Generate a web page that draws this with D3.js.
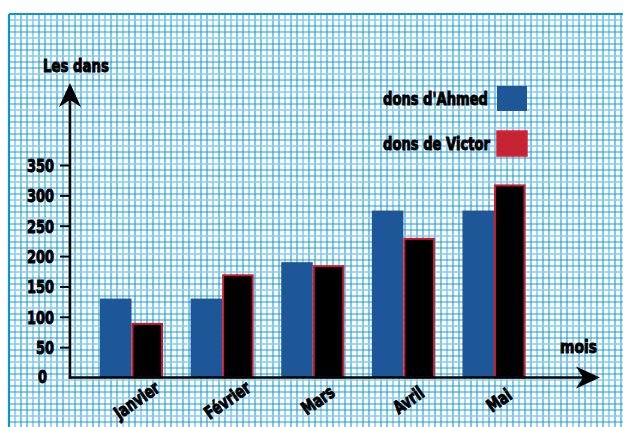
<!DOCTYPE html>
<html>
<head>
<meta charset="utf-8">
<script src="https://cdn.jsdelivr.net/npm/d3@7"></script>
<style>
  body { margin: 0; background: #ffffff; }
  svg { display: block; }
  .lbl { font-family: "DejaVu Sans Condensed", "DejaVu Sans", sans-serif; font-weight: bold; fill: #000; stroke: #000; stroke-width: 0.9px; }
</style>
</head>
<body>
<svg id="chart" width="623" height="427"></svg>
<script>
// Monthly donations
const months = ["Janvier", "Février", "Mars", "Avril", "Mai"];
const ahmed = [130, 130, 190, 275, 275];
const victor = [90, 170, 185, 230, 318];
const yTicks = [50, 100, 150, 200, 250, 300, 350];
const seriesNames = ["dons d'Ahmed", "dons de Victor"];
const yTitle = "Les dans";
const xTitle = "mois";

const svg = d3.select("#chart");

// squeeze a label horizontally so it reads like a condensed display face
function condense(sel, factor, fixed) {
  sel.each(function () {
    const w = this.getComputedTextLength();
    const target = fixed != null ? fixed : w * factor;
    d3.select(this).attr("textLength", target).attr("lengthAdjust", "spacingAndGlyphs");
  });
}

// ---- graph-paper background ----
const paper = { x0: 9, y0: 14, x1: 623, y1: 427, step: 6 };
const gGrid = svg.append("g");
const vx = d3.range(paper.x0, paper.x1 + 0.1, paper.step);
const hy = d3.range(paper.y0, paper.y1 + 0.1, paper.step);
const gridColor = i => (i % 3 === 1 ? "#86ccee" : "#1a9bd2");
const gridWidth = i => (i % 3 === 1 ? 1.6 : 1.1);
gGrid.selectAll("line.v").data(vx).join("line")
  .attr("x1", d => d).attr("x2", d => d)
  .attr("y1", paper.y0).attr("y2", paper.y1)
  .attr("stroke", (d, i) => gridColor(i))
  .attr("stroke-width", (d, i) => gridWidth(i));
gGrid.selectAll("line.h").data(hy).join("line")
  .attr("y1", d => d).attr("y2", d => d)
  .attr("x1", paper.x0).attr("x2", paper.x1)
  .attr("stroke", (d, i) => gridColor(i))
  .attr("stroke-width", (d, i) => gridWidth(i));
// paper border
gGrid.append("line").attr("x1", paper.x0).attr("x2", paper.x1).attr("y1", paper.y0).attr("y2", paper.y0)
  .attr("stroke", "#0f95cc").attr("stroke-width", 2.2);
gGrid.append("line").attr("x1", paper.x0).attr("x2", paper.x0).attr("y1", paper.y0).attr("y2", paper.y1)
  .attr("stroke", "#0f95cc").attr("stroke-width", 2.2);

// ---- scales ----
const originX = 70, originY = 377.5;
const y = d3.scaleLinear().domain([0, 350]).range([originY, 165]);
const x = d3.scaleBand().domain(months).range([100, 525.5]).paddingInner(0.304).paddingOuter(0);
const sub = d3.scaleBand().domain(seriesNames).range([0, x.bandwidth()]);

const colAhmed = "#1e5797";
const colRed = "#cf1a2e";

// ---- bars ----
const gBars = svg.append("g");
gBars.selectAll("rect.a").data(months).join("rect")
  .attr("x", d => x(d) + sub(seriesNames[0]))
  .attr("y", (d, i) => y(ahmed[i]))
  .attr("width", sub.bandwidth())
  .attr("height", (d, i) => originY - y(ahmed[i]))
  .attr("fill", colAhmed);
gBars.selectAll("rect.v").data(months).join("rect")
  .attr("x", d => x(d) + sub(seriesNames[1]) + 1)
  .attr("y", (d, i) => y(victor[i]) + 1)
  .attr("width", sub.bandwidth() - 2)
  .attr("height", (d, i) => originY - y(victor[i]) - 1)
  .attr("fill", "#000")
  .attr("stroke", colRed)
  .attr("stroke-width", 2);

// ---- axes ----
const gAxes = svg.append("g");
const arrow = (tipX, tipY, dir) => {
  // notched arrowhead pointing up or right
  const L = 24, Hw = 11, notch = 7;
  let pts;
  if (dir === "up") pts = [[tipX, tipY], [tipX + Hw, tipY + L], [tipX, tipY + L - notch], [tipX - Hw, tipY + L]];
  else pts = [[tipX, tipY], [tipX - L, tipY - Hw], [tipX - L + notch, tipY], [tipX - L, tipY + Hw]];
  gAxes.append("path").attr("d", d3.line()(pts) + "Z").attr("fill", "#000");
};
gAxes.append("line").attr("x1", originX).attr("x2", originX).attr("y1", originY + 1.2).attr("y2", 92)
  .attr("stroke", "#000").attr("stroke-width", 2.5);
gAxes.append("line").attr("x1", originX - 1.2).attr("x2", 590).attr("y1", originY).attr("y2", originY)
  .attr("stroke", "#000").attr("stroke-width", 2.5);
arrow(originX, 83, "up");
arrow(600, originY, "right");

// y ticks
const yAxis = d3.axisLeft(y).tickValues(yTicks).tickSize(10).tickPadding(6);
const gy = svg.append("g").attr("transform", `translate(${originX},0)`).call(yAxis);
gy.select(".domain").remove();
gy.selectAll(".tick line").attr("stroke", "#000").attr("stroke-width", 2);
gy.selectAll(".tick text").attr("class", "lbl").attr("font-size", 18).attr("dy", "0.36em");
condense(gy.selectAll(".tick text"), 0.8);
const zero = svg.append("text").attr("class", "lbl").attr("x", 47).attr("y", y(0) - 1).attr("dy", "0.36em")
  .attr("text-anchor", "end").attr("font-size", 18).text("0");
condense(zero, 0.8);

// month labels
const mLab = svg.append("g").selectAll("text").data(months).join("text")
  .attr("class", "lbl")
  .attr("font-size", 18)
  .attr("text-anchor", "middle")
  .attr("dy", "0.36em")
  .attr("transform", d => `translate(${x(d) + x.bandwidth() / 2 + 5},400) rotate(-35)`)
  .text(d => d);
condense(mLab, 0.8);

// axis titles
condense(svg.append("text").attr("class", "lbl").attr("x", 43).attr("y", 72).attr("font-size", 18).text(yTitle), null, 66);
condense(svg.append("text").attr("class", "lbl").attr("x", 560).attr("y", 353).attr("font-size", 18).text(xTitle), null, 37);

// ---- legend ----
const leg = svg.append("g");
const legRows = [
  { name: seriesNames[0], ty: 105, ry: 86, fill: colAhmed, stroke: "none", w: 105 },
  { name: seriesNames[1], ty: 150, ry: 131, fill: "#c72433", stroke: "#dd2038", w: 107 }
];
legRows.forEach(r => {
  condense(leg.append("text").attr("class", "lbl").attr("x", 383).attr("y", r.ty).attr("font-size", 17).text(r.name), null, r.w);
  leg.append("rect").attr("x", 497).attr("y", r.ry).attr("width", 30).attr("height", 25)
    .attr("fill", r.fill).attr("stroke", r.stroke).attr("stroke-width", 1.5);
});
</script>
</body>
</html>
